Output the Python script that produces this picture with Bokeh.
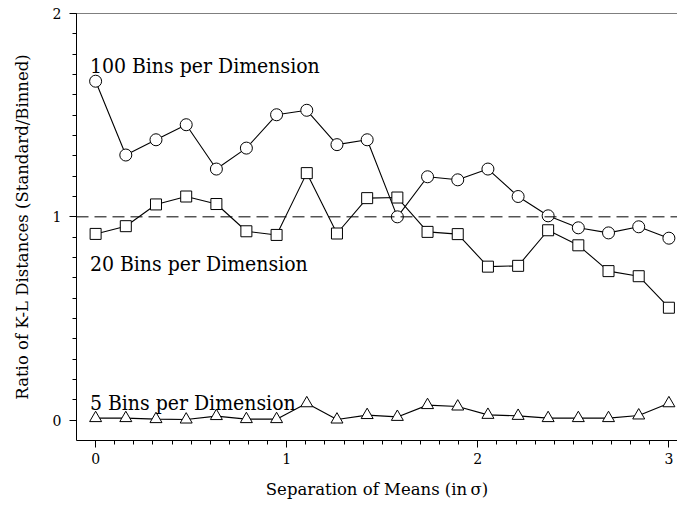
from bokeh.plotting import figure
from bokeh.models import Range1d, FixedTicker, Span, Label
from bokeh.embed import file_html
from bokeh.resources import INLINE

# ---- data ----
separation = [0.0, 0.158, 0.316, 0.474, 0.632, 0.789, 0.947, 1.105, 1.263, 1.421,
              1.579, 1.737, 1.895, 2.053, 2.211, 2.368, 2.526, 2.684, 2.842, 3.0]
bins100 = [1.667, 1.304, 1.379, 1.453, 1.235, 1.338, 1.502, 1.524, 1.355, 1.379,
           1.000, 1.197, 1.182, 1.235, 1.100, 1.005, 0.946, 0.921, 0.951, 0.895]
bins20 = [0.916, 0.954, 1.061, 1.100, 1.063, 0.929, 0.911, 1.215, 0.918, 1.092,
          1.095, 0.926, 0.915, 0.755, 0.759, 0.934, 0.860, 0.733, 0.708, 0.553]
bins5 = [0.010, 0.010, 0.005, 0.003, 0.020, 0.005, 0.005, 0.083, 0.003, 0.025,
         0.016, 0.074, 0.067, 0.026, 0.021, 0.010, 0.010, 0.010, 0.023, 0.083]

series_labels = ["100 Bins per Dimension", "20 Bins per Dimension", "5 Bins per Dimension"]
label_y = [1.740, 0.768, 0.086]
label_x = -0.03

x_title = "Separation of Means (in\u2009σ)"
y_title = "Ratio of K-L Distances (Standard/Binned)"

x_major = [0, 1, 2, 3]
y_major = [0, 1, 2]
x_minor = [round(i * 0.1, 1) for i in range(0, 31)]
y_minor = [round(i * 0.1, 1) for i in range(0, 21)]

FONT = "DejaVu Serif"
FONT_COND = "DejaVu Serif Condensed"

p = figure(width=677, height=515,
           x_range=Range1d(-0.1, 3.045), y_range=Range1d(-0.1, 2.0),
           output_backend="svg", toolbar_location=None,
           min_border_left=76, min_border_right=0,
           min_border_top=13, min_border_bottom=75)

p.outline_line_color = None
p.xgrid.visible = False
p.ygrid.visible = False
p.background_fill_color = "white"
p.border_fill_color = "white"

# axes
p.xaxis.ticker = FixedTicker(ticks=x_major, minor_ticks=x_minor)
p.yaxis.ticker = FixedTicker(ticks=y_major, minor_ticks=y_minor)
for ax in (p.xaxis, p.yaxis):
    ax.axis_line_color = "black"
    ax.axis_line_width = 1
    ax.major_tick_line_color = "black"
    ax.minor_tick_line_color = "black"
    ax.major_tick_out = 7
    ax.major_tick_in = 0
    ax.minor_tick_out = 4
    ax.minor_tick_in = 0
    ax.major_label_text_font = FONT
    ax.major_label_text_font_size = "14px"
    ax.major_label_text_color = "black"
    ax.axis_label_text_font = FONT
    ax.axis_label_text_font_size = "16.5px"
    ax.axis_label_text_font_style = "normal"
    ax.axis_label_text_color = "black"

p.xaxis.axis_label = x_title
p.yaxis.axis_label = y_title
p.xaxis.major_label_standoff = 5
p.yaxis.major_label_standoff = 8
p.xaxis.axis_label_standoff = 13
p.yaxis.axis_label_standoff = 18

# top frame line and reference line
p.add_layout(Span(location=2, dimension="width", line_color="black", line_width=1))
p.add_layout(Span(location=1, dimension="width", line_color="black",
                  line_width=1, line_dash="12 6"))

# series
p.line(separation, bins100, line_color="black", line_width=1.1)
p.scatter(separation, bins100, marker="circle", size=12,
          fill_color="white", line_color="black", line_width=1)

p.line(separation, bins20, line_color="black", line_width=1.1)
p.scatter(separation, bins20, marker="square", size=11,
          fill_color="white", line_color="black", line_width=1)

p.line(separation, bins5, line_color="black", line_width=1.1)
p.scatter(separation, bins5, marker="triangle", size=12,
          fill_color="white", line_color="black", line_width=1)

for txt, yy in zip(series_labels, label_y):
    p.add_layout(Label(x=label_x, y=yy, text=txt, text_font=FONT_COND,
                       text_font_size="21px", text_color="black",
                       text_baseline="alphabetic", text_align="left"))

open("out.html", "w").write(file_html(p, INLINE))
